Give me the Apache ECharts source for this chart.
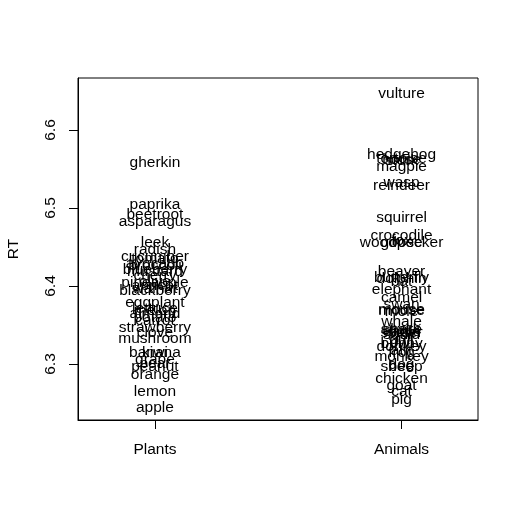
<!DOCTYPE html>
<html>
<head>
<meta charset="utf-8">
<title>RT by word class</title>
<script src="https://cdn.jsdelivr.net/npm/echarts@6/dist/echarts.min.js"></script>
<style>
  html, body { margin: 0; padding: 0; background: #fff; }
  #chart { width: 519px; height: 518px; }
</style>
</head>
<body>
<div id="chart"></div>
<script>
// group labels on the x axis
var classes = ['Plants', 'Animals'];
var yTicks = [6.3, 6.4, 6.5, 6.6];

// plant words and their mean RT
var plantWords = ['gherkin', 'paprika', 'beetroot', 'asparagus', 'leek', 'radish', 'cucumber',
  'tomato', 'avocado', 'broccoli', 'blueberry', 'mustard', 'cherry', 'pineapple', 'olive',
  'apricot', 'blackberry', 'walnut', 'eggplant', 'lettuce', 'melon', 'almond', 'potato',
  'carrot', 'strawberry', 'clove', 'mushroom', 'banana', 'kiwi', 'grape', 'pear', 'peanut',
  'orange', 'lemon', 'apple'];
var plantRT = [6.558, 6.504, 6.492, 6.482, 6.455, 6.446, 6.437,
  6.435, 6.429, 6.426, 6.421, 6.418, 6.413, 6.404, 6.405,
  6.401, 6.394, 6.396, 6.379, 6.371, 6.368, 6.365, 6.359,
  6.356, 6.346, 6.340, 6.333, 6.314, 6.314, 6.305, 6.300, 6.297,
  6.286, 6.265, 6.244];

// animal words and their mean RT
var animalWords = ['vulture', 'hedgehog', 'tortoise', 'horse', 'stork', 'magpie', 'wasp',
  'reindeer', 'squirrel', 'crocodile', 'woodpecker', 'goose', 'fox', 'beaver', 'butterfly',
  'dolphin', 'bat', 'elephant', 'camel', 'swan', 'mouse', 'moose', 'mole', 'whale', 'snake',
  'eagle', 'spider', 'shark', 'squid', 'lion', 'gull', 'owl', 'bunny', 'donkey', 'ant', 'frog',
  'monkey', 'dog', 'sheep', 'bee', 'chicken', 'goat', 'cat', 'pig'];
var animalRT = [6.647, 6.568, 6.563, 6.562, 6.560, 6.553, 6.532,
  6.528, 6.488, 6.465, 6.456, 6.456, 6.458, 6.418, 6.410,
  6.409, 6.406, 6.395, 6.385, 6.376, 6.369, 6.368, 6.367, 6.354, 6.344,
  6.342, 6.340, 6.344, 6.338, 6.341, 6.331, 6.327, 6.326, 6.322, 6.317, 6.315,
  6.309, 6.299, 6.297, 6.296, 6.281, 6.272, 6.264, 6.254];

function toPoints(words, rts, xPos) {
  var out = [];
  for (var i = 0; i < words.length; i++) {
    out.push({ name: words[i], value: [xPos, rts[i]] });
  }
  return out;
}

var font = 'Liberation Sans, Arial, sans-serif';
var wordLabel = {
  show: true, position: 'inside', formatter: '{b}',
  color: '#000', textBorderWidth: 0, fontSize: 15.5, fontFamily: font
};
var chart = echarts.init(document.getElementById('chart'));

chart.setOption({
  animation: false,
  backgroundColor: '#fff',
  grid: {
    left: 78, right: 41, top: 78, bottom: 98,
    outerBoundsMode: 'none',
    containLabel: false,
    show: true, borderColor: '#000', borderWidth: 1
  },
  xAxis: {
    type: 'value',
    min: 0.688,
    max: 2.31,
    splitLine: { show: false },
    axisLine: { show: true, lineStyle: { color: '#000' } },
    axisTick: { show: true, length: 9, customValues: [1, 2], lineStyle: { color: '#000' } },
    axisLabel: {
      customValues: [1, 2],
      margin: 22,
      color: '#000', fontSize: 15.5, fontFamily: font,
      formatter: function (v) { return classes[Math.round(v) - 1]; }
    }
  },
  yAxis: {
    type: 'value',
    min: 6.2282,
    max: 6.6667,
    name: 'RT',
    nameLocation: 'middle',
    nameGap: 56,
    nameRotate: 90,
    nameTextStyle: { color: '#000', fontSize: 15.5, fontFamily: font },
    splitLine: { show: false },
    axisLine: { show: true, lineStyle: { color: '#000' } },
    axisTick: { show: true, length: 9, customValues: yTicks, lineStyle: { color: '#000' } },
    axisLabel: {
      customValues: yTicks,
      rotate: 90,
      margin: 19,
      color: '#000', fontSize: 15.5, fontFamily: font,
      formatter: function (v) { return v.toFixed(1); }
    }
  },
  series: [
    {
      type: 'scatter',
      symbolSize: 0,
      itemStyle: { opacity: 1 },
      data: toPoints(plantWords, plantRT, 1),
      label: wordLabel
    },
    {
      type: 'scatter',
      symbolSize: 0,
      itemStyle: { opacity: 1 },
      data: toPoints(animalWords, animalRT, 2),
      label: wordLabel
    }
  ]
});
</script>
</body>
</html>
